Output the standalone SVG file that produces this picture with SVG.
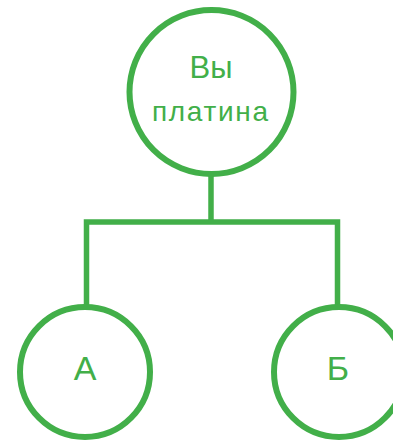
<svg xmlns="http://www.w3.org/2000/svg" width="393" height="442" viewBox="0 0 393 442">
<style>
.n{fill:#ffffff;stroke:#42af49;stroke-width:6}
.c{fill:none;stroke:#42af49;stroke-width:5.5;stroke-linejoin:miter}
.t{fill:#42af49;font-family:"Liberation Sans",Arial,sans-serif;text-anchor:middle}
</style>
<rect width="393" height="442" fill="#ffffff"/>
<g id="connectors">
<path class="c" d="M211 176 V222"/>
<path class="c" d="M86.5 306 V222 H337.5 V306"/>
</g>
<g id="node-top">
<circle class="n" cx="211.5" cy="92" r="82"/>
<text class="t" x="211" y="78" font-size="31">Вы</text>
<text class="t" x="210" y="121" font-size="28" textLength="116" lengthAdjust="spacing">платина</text>
</g>
<g id="node-a">
<circle class="n" cx="85" cy="372" r="65"/>
<text class="t" x="85" y="380" font-size="34">А</text>
</g>
<g id="node-b">
<circle class="n" cx="339" cy="372" r="65"/>
<text class="t" x="338" y="380" font-size="34">Б</text>
</g>
</svg>
